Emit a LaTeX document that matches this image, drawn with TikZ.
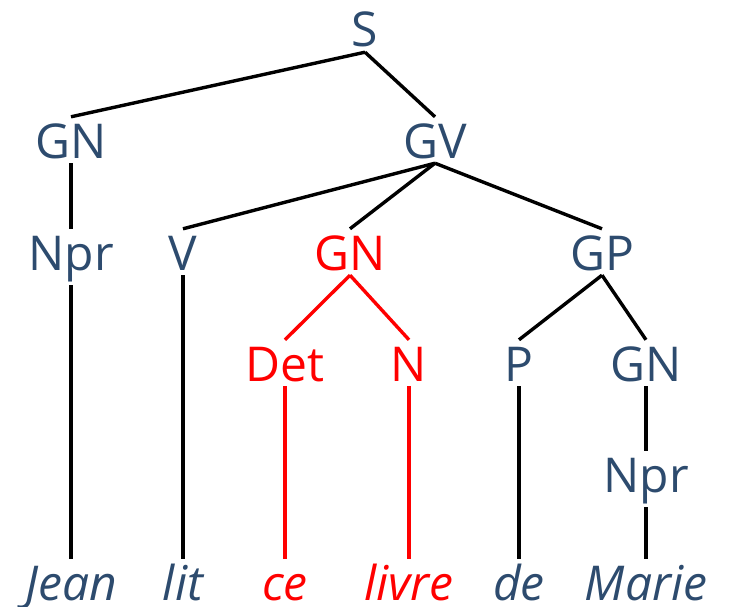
\documentclass[tikz,border=0pt]{standalone}
\usepackage{fontspec}
\setmainfont{Open Sans}
\definecolor{treeblue}{HTML}{2D4B6E}
\definecolor{treered}{HTML}{FF0000}
\begin{document}
\begin{tikzpicture}[x=1pt,y=-1pt,
  lab/.style={anchor=base,inner xsep=0pt,inner ysep=5pt,text height=36pt,text depth=0pt,
    font=\fontsize{48}{48}\selectfont,text=treeblue},
  deep/.style={text depth=10pt},
  word/.style={lab,font=\fontsize{48}{48}\selectfont\itshape},
  hl/.style={text=treered},
  edge/.style={line width=3.4pt,draw=black},
  hledge/.style={line width=3.4pt,draw=treered}]
\useasboundingbox (0,0) rectangle (731,607);
% level 0
\node[lab] (S) at (365,47) {S};
% level 1
\node[lab] (GN1) at (71,158) {GN};
\node[lab] (GV) at (435,158) {GV};
% level 2
\node[lab,deep] (Npr1) at (71,270) {Npr};
\node[lab] (V) at (183,270) {V};
\node[lab,hl] (GN2) at (350,270) {GN};
\node[lab] (GP) at (602,270) {GP};
% level 3
\node[lab,hl] (Det) at (285,381) {Det};
\node[lab,hl] (N) at (409,381) {N};
\node[lab] (P) at (519,381) {P};
\node[lab] (GN3) at (646,381) {GN};
% level 4
\node[lab,deep] (Npr2) at (646,492) {Npr};
% words
\node[word] (w1) at (71,600) {Jean};
\node[word] (w2) at (183,600) {lit};
\node[word,hl] (w3) at (285,600) {ce};
\node[word,hl] (w4) at (409,600) {livre};
\node[word] (w5) at (519,600) {de};
\node[word] (w6) at (646,600) {Marie};
% edges
\draw[edge] (S.south) -- (GN1.north);
\draw[edge] (S.south) -- (GV.north);
\draw[edge] (GN1.south) -- (Npr1.north);
\draw[edge] (GV.south) -- (V.north);
\draw[edge] (GV.south) -- (GN2.north);
\draw[edge] (GV.south) -- (GP.north);
\draw[hledge] (GN2.south) -- (Det.north);
\draw[hledge] (GN2.south) -- (N.north);
\draw[edge] (GP.south) -- (P.north);
\draw[edge] (GP.south) -- (GN3.north);
\draw[edge] (GN3.south) -- (Npr2.north);
\draw[edge] (Npr1.south) -- (w1.north);
\draw[edge] (V.south) -- (w2.north);
\draw[hledge] (Det.south) -- (w3.north);
\draw[hledge] (N.south) -- (w4.north);
\draw[edge] (P.south) -- (w5.north);
\draw[edge] (Npr2.south) -- (w6.north);
\end{tikzpicture}
\end{document}
